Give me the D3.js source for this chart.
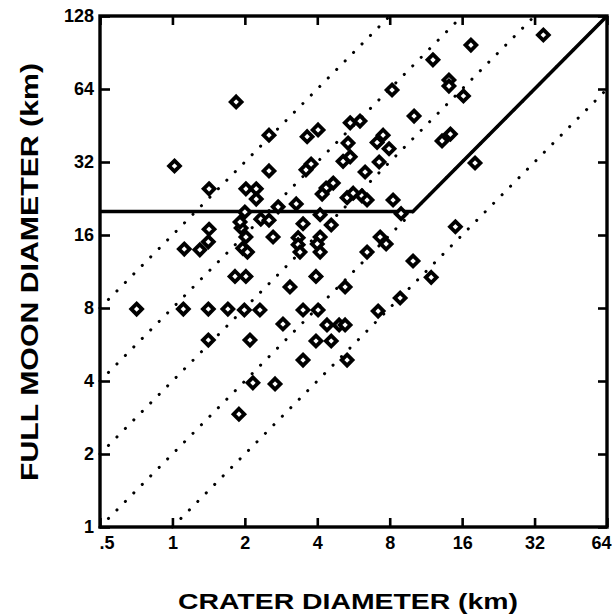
<!DOCTYPE html>
<html><head><meta charset="utf-8">
<script src="https://cdn.jsdelivr.net/npm/d3@7"></script>
<style>html,body{margin:0;padding:0;background:#fff;} svg{display:block;}</style>
</head><body>
<svg id="chart" width="612" height="614"></svg>
<script>
// ---- data ----
const craterDiameter = [
  1.84, 1.02, 2.52, 3.63, 4.03, 5.48, 6.02, 5.37, 5.12, 5.48,
  2.52, 3.59, 3.77, 4.35, 4.66, 4.19, 1.42, 2.02, 2.23, 2.23,
  2.00, 2.33, 2.52, 2.75, 3.27, 3.49, 4.11, 4.57, 1.93, 2.02,
  1.42, 2.62, 3.33, 3.33, 3.39, 4.11, 4.00, 4.11, 1.12, 1.30,
  1.41, 1.96, 2.05, 1.82, 2.02, 3.95, 0.71, 1.11, 1.41, 1.70,
  1.99, 2.31, 3.08, 5.22, 2.88, 3.49, 4.03, 4.39, 4.93, 5.22,
  1.41, 2.10, 3.95, 4.57, 3.49, 5.32, 2.16, 2.67, 1.89, 7.16,
  8.84, 11.9, 10.0, 15.0, 7.30, 7.73, 6.44, 8.92, 8.26, 5.32,
  6.13, 6.44, 6.32, 7.23, 7.09, 7.51, 7.95, 8.18, 10.1, 13.2,
  14.3, 18.1, 12.1, 14.1, 14.1, 16.2, 17.4, 34.8, 5.64, 1.91
];
const fullMoonDiameter = [
  56.6, 30.8, 41.3, 40.7, 43.4, 46.4, 47.2, 38.3, 32.2, 33.6,
  29.4, 29.7, 31.4, 25.0, 26.2, 23.6, 24.8, 24.8, 24.8, 22.5,
  19.9, 18.6, 18.4, 20.9, 21.5, 17.8, 19.4, 17.6, 17.1, 15.7,
  16.9, 15.7, 15.6, 14.6, 13.6, 15.7, 14.7, 13.6, 14.0, 13.9,
  15.0, 14.1, 13.6, 10.8, 10.8, 10.8, 7.92, 7.92, 7.92, 7.92,
  7.85, 7.85, 9.77, 9.77, 6.87, 7.85, 7.85, 6.81, 6.81, 6.81,
  5.90, 5.90, 5.85, 5.85, 4.88, 4.88, 3.93, 3.89, 2.92, 7.77,
  8.80, 10.7, 12.5, 17.3, 15.7, 14.7, 13.6, 19.6, 22.3, 22.8,
  23.2, 22.3, 29.1, 32.0, 38.5, 41.3, 36.3, 63.4, 49.5, 39.1,
  41.7, 31.7, 84.4, 69.7, 65.8, 59.9, 97.1, 106.9, 23.8, 18.1
];
const xTickValues = [0.5, 1, 2, 4, 8, 16, 32, 64];
const xTickLabels = [".5", "1", "2", "4", "8", "16", "32", "64"];
const yTickValues = [1, 2, 4, 8, 16, 32, 64, 128];
const yTickLabels = ["1", "2", "4", "8", "16", "32", "64", "128"];
const guideRatios = [16, 8, 4, 2, 1];          // dotted lines: moon = ratio * crater
const limitCrater = [0.5, 10, 64];             // solid limit line
const limitMoon = [20, 20, 128];
const xTitle = "CRATER DIAMETER (km)";
const yTitle = "FULL MOON DIAMETER (km)";

// ---- layout ----
const L = 100, R = 607, T = 16, B = 527;
const svg = d3.select("#chart");
const x = d3.scaleLog().base(2).domain([0.5, 64]).range([L, R]);
const y = d3.scaleLog().base(2).domain([1, 128]).range([B, T]);
const tickFont = "'Liberation Sans', Arial, sans-serif";

// guide dotted lines
const line = d3.line().x(d => x(d[0])).y(d => y(d[1]));
guideRatios.forEach(c => {
  const x0 = Math.max(0.5, 1 / c), x1 = Math.min(64, 128 / c);
  svg.append("path")
    .attr("d", line([[x0, c * x0], [x1, c * x1]]))
    .attr("fill", "none").attr("stroke", "#000")
    .attr("stroke-width", 3).attr("stroke-linecap", "round")
    .attr("stroke-dasharray", "0.1 11.9");
});

// solid limit line
svg.append("path")
  .attr("d", line(limitCrater.map((v, i) => [v, limitMoon[i]])))
  .attr("fill", "none").attr("stroke", "#000").attr("stroke-width", 3.6)
  .attr("stroke-linejoin", "miter");

// diamonds
const diamond = "M0,-5.4L5.4,0L0,5.4L-5.4,0Z";
svg.append("g").selectAll("path").data(craterDiameter).join("path")
  .attr("d", diamond)
  .attr("transform", (d, i) => `translate(${x(d)},${y(fullMoonDiameter[i])})`)
  .attr("fill", "#fff").attr("stroke", "#000").attr("stroke-width", 3.8);

// axes with inward ticks
function styleAxis(g) {
  g.select(".domain").remove();
  g.selectAll(".tick line").attr("stroke", "#000").attr("stroke-width", 2.6);
  g.selectAll(".tick text").attr("fill", "#000")
    .style("font-family", tickFont).style("font-weight", "bold").style("font-size", "18px");
}
const gB = svg.append("g").attr("transform", `translate(0,${B})`)
  .call(d3.axisBottom(x).tickValues(xTickValues)
    .tickFormat((d, i) => xTickLabels[i]).tickSizeInner(-9).tickSizeOuter(0).tickPadding(9))
  .call(styleAxis);
gB.selectAll(".tick text").filter((d, i) => i === 0).attr("text-anchor", "start").attr("x", -1);
gB.selectAll(".tick text").filter((d, i) => i === xTickValues.length - 1).attr("text-anchor", "end").attr("x", 4);
svg.append("g").attr("transform", `translate(0,${T})`)
  .call(d3.axisTop(x).tickValues(xTickValues).tickFormat("").tickSizeInner(-9).tickSizeOuter(0))
  .call(styleAxis);
svg.append("g").attr("transform", `translate(${L},0)`)
  .call(d3.axisLeft(y).tickValues(yTickValues)
    .tickFormat((d, i) => yTickLabels[i]).tickSizeInner(-10).tickSizeOuter(0).tickPadding(6))
  .call(styleAxis);
svg.append("g").attr("transform", `translate(${R},0)`)
  .call(d3.axisRight(y).tickValues(yTickValues).tickFormat("").tickSizeInner(-9).tickSizeOuter(0))
  .call(styleAxis);

// frame
svg.append("rect").attr("x", L).attr("y", T).attr("width", R - L).attr("height", B - T)
  .attr("fill", "none").attr("stroke", "#000").attr("stroke-width", 3.4);

// titles
svg.append("text").attr("x", 348).attr("y", 609).attr("text-anchor", "middle")
  .attr("textLength", 340).attr("lengthAdjust", "spacingAndGlyphs")
  .style("font-family", tickFont).style("font-weight", "bold").style("font-size", "22px")
  .text(xTitle);
svg.append("text").attr("transform", "translate(38,272) rotate(-90)").attr("text-anchor", "middle")
  .attr("textLength", 418).attr("lengthAdjust", "spacingAndGlyphs")
  .style("font-family", tickFont).style("font-weight", "bold").style("font-size", "23px")
  .text(yTitle);
</script>
</body></html>
